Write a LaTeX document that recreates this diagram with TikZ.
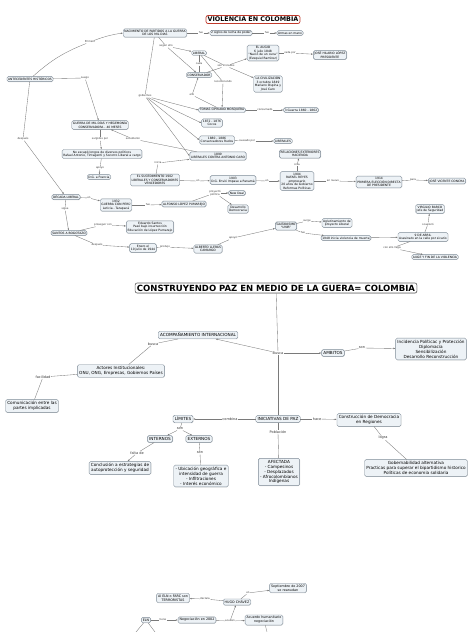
\documentclass[tikz,border=0pt]{standalone}
\usepackage{fontspec}
\setmainfont{DejaVu Sans}
\usetikzlibrary{arrows.meta,shadows}
\definecolor{bfill}{HTML}{EDF2F6}
\definecolor{bdraw}{HTML}{7D8A96}
\definecolor{lcol}{HTML}{7A7A7A}
\definecolor{tred}{HTML}{C0392B}
\tikzset{
 box/.style={draw=bdraw, fill=bfill, rounded corners=1.5pt, line width=0.4pt, inner sep=1.2pt, align=center, font=\fontsize{3.0}{3.5}\selectfont, drop shadow={shadow xshift=0.4pt, shadow yshift=-0.4pt, opacity=0.3}},
 mbox/.style={box, font=\fontsize{4.2}{4.9}\selectfont, inner sep=1.8pt},
 bbox/.style={box, font=\fontsize{3.3}{3.9}\selectfont, inner sep=1.5pt},
 lab/.style={fill=white, inner sep=0.3pt, align=center, font=\fontsize{2.6}{3.1}\selectfont, text=black!80},
 mlab/.style={lab, font=\fontsize{3.5}{4.1}\selectfont},
 con/.style={draw=lcol, line width=0.35pt},
 arr/.style={con, -{Latex[length=2pt,width=1.6pt]}},
 ttl/.style={draw=tred, fill=white, rounded corners=2pt, line width=0.7pt, inner sep=1.6pt, font=\bfseries\fontsize{6.4}{7.4}\selectfont},
 ttlb/.style={draw=black!60, fill=white, rounded corners=2pt, line width=0.6pt, inner sep=1.8pt, font=\bfseries\fontsize{8.5}{9.6}\selectfont, drop shadow={shadow xshift=0.5pt, shadow yshift=-0.5pt, opacity=0.3}},
}
\begin{document}
\begin{tikzpicture}[x=1pt,y=-1pt]
\useasboundingbox[fill=white] (0,0) rectangle (474,632);
% ---------- TOP SECTION ----------
\node[ttl] (t1) at (253,19.5) {VIOLENCIA EN COLOMBIA};
\node[box] (n1) at (155,33) {NACIMIENTO DE PARTIDOS A LA GUERRA\\DE LOS MIL DIAS};
\node[lab] (l_fue1) at (201,33) {fue};
\node[box] (siglos) at (231,33) {2 siglos de lucha de poder};
\node[lab] (l_fue2) at (267,33) {fue};
\node[box] (armas) at (290,33) {Armas en mano};
\node[lab] (l_seg) at (166,46) {según ello};
\node[box] (lib) at (199,53) {LIBERAL};
\node[lab] (l_cada) at (199,64) {cada};
\node[box] (cons) at (199,75) {CONSERVADOR};
\node[lab] (l_son) at (226,66) {son iniciados};
\node[box] (augio) at (263,53) {EL AUGIO\\6 julio 1848\\``Nació de un cuna''\\(Ezequiel Ramírez)};
\node[box] (civ) at (268,84) {LA CIVILIZACIÓN\\3 octubre 1849\\Mariano Ospina y\\José Caro};
\node[lab] (l_cadapor) at (290,53) {cada por};
\node[box] (jhl) at (330,55) {JOSÉ HILARIO LÓPEZ\\PRESIDENTE};
\node[lab] (l_rec) at (223,82) {reconociendo};
\node[lab] (l_ello) at (192,95) {ello};
\node[box] (tcm) at (222,110) {TOMAS CIPRIANO MOSQUERA};
\node[lab] (l_cons) at (265,110) {consumado};
\node[box] (g3) at (301,110) {3 Guerra 1860 - 1862};
\node[box] (c1872) at (212,123) {1872 - 1876\\Cocos};
\node[box] (c1880) at (217,140) {1880 - 1886\\Conservadores Rudos};
\node[lab] (l_caus) at (247,141) {causado por};
\node[box] (libs) at (283,141) {LIBERALES};
\node[box] (c1899) at (218,156) {1899\\LIBERALES CONTRA ANTONIO CARO};
\node[box] (ant) at (30,79) {ANTECEDENTES HISTÓRICOS};
\node[lab] (l_prim) at (90,42) {Primero};
\node[lab] (l_luego) at (85,78) {Luego};
\node[lab] (l_gob) at (145,96) {gobiernos};
\node[box] (gmd) at (100,125) {GUERRA DE MIL DÍAS Y HEGEMONÍA\\CONSERVADORA - 40 MESES};
\node[lab] (l_desp) at (23,139) {después};
\node[lab] (l_surg) at (100,139) {surgidos por};
\node[lab] (l_suc) at (133,139) {sucedieron};
\node[box] (esc) at (102,154) {No escapó longos de diversos políticos\\Rafael Antonio, Tintagenti y Socorro Liberal a cargo};
\node[lab] (l_apoyo) at (100,168) {apoyo};
\node[box] (dg) at (99,177) {D.G. a Francia};
\node[box] (suc1902) at (155,180) {EL SUCEDIMIENTO 1902\\LIBERALES Y CONSERVADORES\\VENCEDORES};
\node[lab] (l_ini) at (158,163) {inicia};
\node[lab] (l_en1) at (198,181) {en};
\node[box] (c1903) at (233,180) {1903\\D.G. Envió Impase a Panamá};
\node[lab] (l_en2) at (267,181) {en};
\node[box] (c1904) at (297,181) {1904\\RAFAEL REYES\\empresario\\20 años de Gobierno\\Reformas Políticas};
\node[lab] (l_crea) at (297,165) {crea};
\node[box] (rel) at (300,154) {RELACIONES EXTERIORES\\HACIENDA};
\node[lab] (l_nuevo) at (333,181) {en nuevo};
\node[box] (c1914) at (379,182) {1914\\PRIMERA ELECCIÓN DIRECTA\\DE PRESIDENTE};
\node[lab] (l_para) at (413,180) {para};
\node[box] (jvc) at (447,181) {JOSÉ VICENTE CONCHA};
\node[box] (dec) at (66,197) {DÉCADA LIBERAL};
\node[lab] (l_en3) at (89,198) {en};
\node[box] (c1932) at (116,205) {1932\\GUERRA CON PERÚ\\Leticia - Tarapacá};
\node[lab] (l_fue3) at (148,205) {fue};
\node[box] (alp) at (184,204) {ALFONSO LÓPEZ PUMAREJO};
\node[lab] (l_proy) at (215,193) {proyectó\\política};
\node[box] (nd) at (237,193) {New Deal};
\node[box] (dd) at (238,209) {Desarrollo\\Democracia};
\node[lab] (l_sigue) at (65,209) {sigue};
\node[box] (sab) at (69,233) {SANTOS A BOGOTAZO};
\node[lab] (l_pros) at (103,225) {proseguir con};
\node[box] (es) at (150,227) {Eduardo Santos\\Pasó bajo insurrección\\Educación de López Pumarejo};
\node[lab] (l_desp2) at (97,245) {después};
\node[box] (ene) at (143,248) {Enero el\\10 julio de 1944};
\node[lab] (l_prod) at (165,247) {produjo};
\node[box] (alc) at (208,249) {ALBERTO LLERAS\\CAMARGO};
\node[lab] (l_apoyo2) at (233,238) {apoyó};
\node[box] (gai) at (286,226) {GAITANISMO\\``UNIR''};
\node[lab] (l_surge) at (307,221) {surge};
\node[box] (agl) at (337,223) {Aglutinamiento de\\proyecto Liberal};
\node[lab] (l_fue4) at (303,233) {fue};
\node[box] (c1948) at (346,238) {1948 inicia violencia de muerte};
\node[box] (abr) at (423,237) {9 DE ABRIL\\Asesinato en la calle por sicario};
\node[lab] (l_ocas) at (428,224) {ocasionó};
\node[box] (vb) at (430,209) {VIRGILIO BARCO\\Jefe de Seguridad};
\node[lab] (l_llega) at (392,248) {con ello llega};
\node[box] (auge) at (435,257) {AUGE Y FIN DE LA VIOLENCIA};
% connectors top
\draw[con] (ant) to[bend left=10] (l_prim);
\draw[arr] (l_prim) to[bend left=6] (n1.west);
\draw[con] (ant) -- (l_luego); \draw[arr] (l_luego) -- (gmd);
\draw[con] (ant) -- (l_desp); \draw[arr] (l_desp) -- (dec);
\draw[con] (n1) -- (l_gob);
\draw[arr] (l_gob) -- (tcm.west); \draw[arr] (l_gob) -- (c1872.west);
\draw[arr] (l_gob) -- (c1880.west); \draw[arr] (l_gob) -- (c1899.west);
\draw[con] (n1) -- (l_fue1); \draw[arr] (l_fue1) -- (siglos);
\draw[con] (siglos) -- (l_fue2); \draw[arr] (l_fue2) -- (armas);
\draw[con] (n1) -- (l_seg); \draw[arr] (l_seg) -- (lib); \draw[arr] (l_seg) -- (cons);
\draw[con] (lib) -- (l_cada); \draw[con] (l_cada) -- (cons);
\draw[con] (lib) -- (l_son); \draw[con] (cons) -- (l_son);
\draw[arr] (l_son) -- (augio); \draw[arr] (l_son) -- (civ);
\draw[con] (augio) -- (l_cadapor); \draw[arr] (l_cadapor) -- (jhl);
\draw[con] (lib) -- (l_rec); \draw[arr] (l_rec) -- (tcm);
\draw[con] (tcm) -- (l_ello); \draw[arr] (l_ello) -- (cons);
\draw[con] (tcm) -- (l_cons); \draw[arr] (l_cons) -- (g3);
\draw[con] (c1880) -- (l_caus); \draw[arr] (l_caus) -- (libs);
\draw[con] (gmd) -- (l_surg); \draw[arr] (l_surg) -- (esc);
\draw[con] (esc) -- (l_apoyo); \draw[arr] (l_apoyo) -- (dg);
\draw[con] (c1899) -- (l_suc); \draw[arr] (l_suc) -- (gmd);
\draw[con] (suc1902) -- (l_ini); \draw[arr] (l_ini) -- (c1899);
\draw[con] (suc1902) -- (l_en1); \draw[arr] (l_en1) -- (c1903);
\draw[con] (c1903) -- (l_en2); \draw[arr] (l_en2) -- (c1904);
\draw[con] (c1904) -- (l_crea); \draw[arr] (l_crea) -- (rel);
\draw[con] (c1904) -- (l_nuevo); \draw[arr] (l_nuevo) -- (c1914);
\draw[con] (c1914) -- (l_para); \draw[arr] (l_para) -- (jvc);
\draw[con] (dec) -- (l_en3); \draw[arr] (l_en3) -- (c1932);
\draw[con] (c1932) -- (l_fue3); \draw[arr] (l_fue3) -- (alp);
\draw[con] (alp) -- (l_proy); \draw[arr] (l_proy) -- (nd); \draw[arr] (l_proy) -- (dd);
\draw[con] (dec) -- (l_sigue); \draw[arr] (l_sigue) -- (sab);
\draw[con] (sab) -- (l_pros); \draw[arr] (l_pros) -- (es);
\draw[con] (sab) -- (l_desp2); \draw[arr] (l_desp2) -- (ene);
\draw[con] (ene) -- (l_prod); \draw[arr] (l_prod) -- (alc);
\draw[con] (alc) -- (l_apoyo2); \draw[arr] (l_apoyo2) -- (gai);
\draw[con] (gai) -- (l_surge); \draw[arr] (l_surge) -- (agl);
\draw[con] (gai) -- (l_fue4); \draw[arr] (l_fue4) -- (c1948);
\draw[arr] (c1948) -- (abr);
\draw[con] (abr) -- (l_ocas); \draw[arr] (l_ocas) -- (vb);
\draw[con] (abr) -- (l_llega); \draw[arr] (l_llega) -- (auge);
% ---------- MIDDLE SECTION ----------
\node[ttlb] (t2) at (276,288) {CONSTRUYENDO PAZ EN MEDIO DE LA GUERA= COLOMBIA};
\node[mlab] (l_busca) at (278,353) {Busca};
\node[mbox] (acomp) at (198,335) {ACOMPAÑAMIENTO INTERNACIONAL};
\node[mbox] (amb) at (333,353) {AMBITOS};
\node[mlab] (l_son2) at (362,348) {son};
\node[mbox] (inc) at (431,349) {Incidencia Políticac y Protección\\Diplomacia\\Sensibilización\\Desarrollo Reconstrucción};
\node[mlab] (l_busca2) at (153,344) {busca};
\node[mbox] (act) at (121,371) {Actores Institucionales:\\ONU, ONG, Empresas, Gobiernos Países};
\node[mlab] (l_fac) at (43,377) {facilidad};
\node[mbox] (com) at (32,406) {Comunicación entre las\\partes implicadas};
\node[mbox] (ini) at (278,419) {INICIATIVAS DE PAZ};
\node[mlab] (l_comb) at (230,419) {combina};
\node[mbox] (lim) at (183,419) {LÍMITES};
\node[mlab] (l_son3) at (180,429) {son};
\node[mbox] (intr) at (160,439) {INTERNOS};
\node[mbox] (ext) at (199,439) {EXTERNOS};
\node[mlab] (l_falta) at (137,453) {falta de};
\node[mbox] (concl) at (120,468) {Conclusión a estrategias de\\autoprotección y seguridad};
\node[mlab] (l_son4) at (200,453) {son};
\node[mbox] (ubic) at (201,476) {- Ubicación geográfica e\\intensidad de guerra\\- Infiltraciones\\- Interés económico};
\node[mlab] (l_hace) at (317,419) {hace};
\node[mbox] (cdem) at (369,420) {Construcción de Democracia\\en Regiones};
\node[mlab] (l_logra) at (383,438) {logra};
\node[mbox] (gob) at (416,468) {Gobernabilidad alternativa\\Practicas para superar el bipartidismo historico\\Políticas de economia solidaria};
\node[mlab] (l_pob) at (278,432) {Población};
\node[mbox] (afec) at (279,472) {AFECTADA\\- Campesinos\\- Desplazados\\- Afrocolombianos\\Indígenas};
\draw[con] (t2) -- (l_busca); \draw[con] (l_busca) -- (ini);
\draw[arr] (l_busca) -- (acomp); \draw[arr] (l_busca) -- (amb);
\draw[con] (amb) -- (l_son2); \draw[arr] (l_son2) -- (inc);
\draw[con] (acomp) -- (l_busca2); \draw[con] (l_busca2) -- (act);
\draw[con] (act) -- (l_fac); \draw[con] (l_fac) -- (com);
\draw[con] (ini) -- (l_comb); \draw[arr] (l_comb) -- (lim);
\draw[con] (lim) -- (l_son3); \draw[arr] (l_son3) -- (intr); \draw[arr] (l_son3) -- (ext);
\draw[con] (intr) -- (l_falta); \draw[arr] (l_falta) -- (concl);
\draw[con] (ext) -- (l_son4); \draw[con] (l_son4) -- (ubic);
\draw[con] (ini) -- (l_hace); \draw[arr] (l_hace) -- (cdem);
\draw[con] (cdem) -- (l_logra); \draw[con] (l_logra) -- (gob);
\draw[con] (ini) -- (l_pob); \draw[con] (l_pob) -- (afec);
% ---------- BOTTOM SECTION ----------
\node[bbox] (sep) at (288,588) {Septiembre de 2007\\se reanudan};
\node[bbox] (aleln) at (173,598) {Al ELN o FARC son\\TERRORISTAS};
\node[bbox] (hugo) at (237,602) {HUGO CHÁVEZ};
\node[lab] (l_decl) at (205,599) {declara};
\node[lab] (l_en4) at (248,593) {en};
\node[bbox] (eln) at (146,620) {ELN};
\node[lab] (l_tiene) at (163,620) {tiene};
\node[bbox] (neg) at (197,620) {Negociación en 2002};
\node[lab] (l_acu) at (230,621) {acuden};
\node[bbox] (atm) at (264,620) {Acuerdo humanitario\\negociación};
\coordinate (e1) at (136,632);
\coordinate (e2) at (155,632);
\coordinate (e3) at (267,632);
\draw[con] (hugo) -- (l_decl); \draw[arr] (l_decl) -- (aleln);
\draw[con] (hugo) -- (l_en4); \draw[arr] (l_en4) -- (sep);
\draw[con] (eln) -- (l_tiene); \draw[arr] (l_tiene) -- (neg);
\draw[con] (neg) -- (l_acu); \draw[arr] (l_acu) -- (atm); \draw[arr] (l_acu) -- (hugo);
\draw[con] (eln) -- (e1); \draw[con] (eln) -- (e2); \draw[con] (atm) -- (e3);
\end{tikzpicture}
\end{document}
